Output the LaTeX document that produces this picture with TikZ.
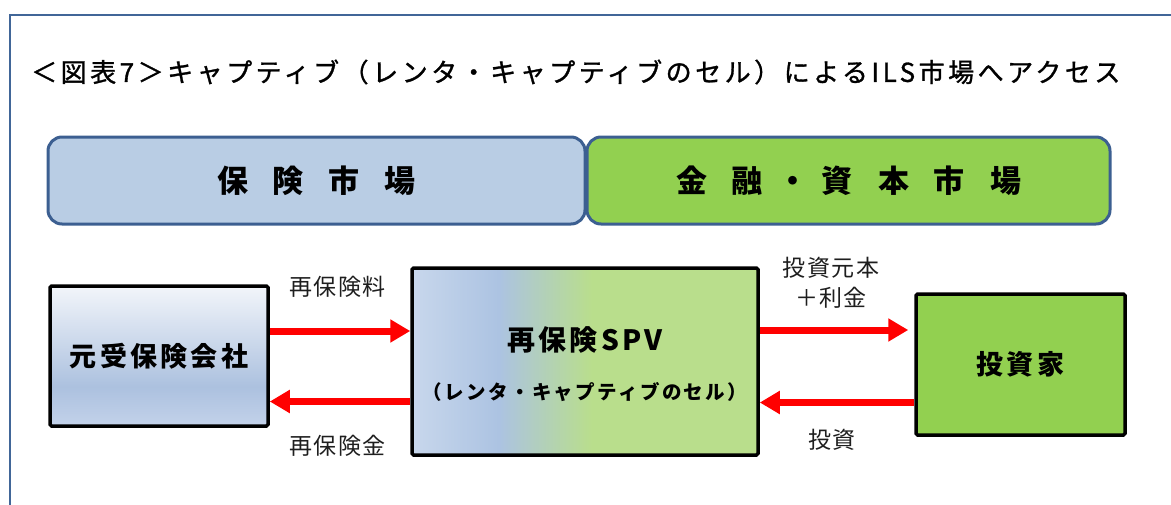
\documentclass[tikz,border=0pt]{standalone}
\usepackage{fontspec}
\newfontfamily\jp{Noto Sans CJK JP}
\newfontfamily\jpt[LetterSpace=12]{Noto Sans CJK JP}
\newfontfamily\jptitle[LetterSpace=13.5,FakeBold=1.2]{Noto Sans CJK JP}
\newfontfamily\jpl[LetterSpace=6]{Noto Sans CJK JP}
\usetikzlibrary{arrows.meta}
\definecolor{framec}{RGB}{65,102,152}
\definecolor{barborder}{RGB}{60,95,145}
\definecolor{bluefill}{RGB}{185,205,228}
\definecolor{greenfill}{RGB}{146,208,80}
\definecolor{arrowred}{RGB}{255,0,0}
\definecolor{labelc}{RGB}{30,30,30}
\definecolor{mb}{RGB}{195,210,234}
\definecolor{mm}{RGB}{172,193,223}
\definecolor{mt}{RGB}{242,245,250}
\definecolor{sl}{RGB}{200,215,236}
\definecolor{sb}{RGB}{172,195,226}
\definecolor{sg}{RGB}{185,222,140}
\pgfdeclareverticalshading{motoshade}{100bp}{color(0bp)=(mb); color(25bp)=(mb); color(39bp)=(mm); color(75bp)=(mt); color(100bp)=(mt)}
\pgfdeclarehorizontalshading{spvshade}{100bp}{color(0bp)=(sl); color(25bp)=(sl); color(37.5bp)=(sb); color(51bp)=(sg); color(100bp)=(sg)}
\tikzset{
  bar/.style={draw=barborder, line width=3pt, rounded corners=14pt, inner sep=0pt,
    font=\jp\bfseries\fontsize{31}{36}\selectfont},
  box/.style={draw=black, line width=3.5pt, rounded corners=1.5pt, inner sep=0pt, align=center},
  boxfont/.style={font=\jpt\bfseries\fontsize{27}{32}\selectfont},
  arr/.style={draw=arrowred, line width=7pt, -{Triangle[width=22pt,length=20pt]}},
  lbl/.style={text=labelc, inner sep=0pt, align=center, font=\jpl\fontsize{23}{29.5}\selectfont}
}
\begin{document}
\begin{tikzpicture}[x=1pt,y=-1pt]
\useasboundingbox (0,0) rectangle (1171,504);
\clip (0,0) rectangle (1171,504);
\draw[framec, line width=2.2pt] (10,15) rectangle (1230,560);
\node[anchor=west, inner sep=0pt, font=\jptitle\fontsize{26}{30}\selectfont] (title) at (31,72)
  {＜図表7＞キャプティブ（レンタ・キャプティブのセル）によるILS市場へアクセス};
\node[bar, fill=bluefill, minimum width=537pt, minimum height=87pt] (hoken) at (316.5,180.5)
  {保\hspace{25pt}険\hspace{25pt}市\hspace{25pt}場};
\node[bar, fill=greenfill, minimum width=523pt, minimum height=87pt] (kinyu) at (848.5,180.5)
  {金\hspace{25pt}融\hspace{14pt}・\hspace{14pt}資\hspace{25pt}本\hspace{25pt}市\hspace{25pt}場};
\node[box, boxfont, shade, shading=motoshade, minimum width=218pt, minimum height=140pt] (moto) at (159,356)
  {元受保険会社};
\node[box, shade, shading=spvshade, minimum width=346pt, minimum height=187pt] (spv) at (585,361.5) {};
\node[boxfont, inner sep=0pt, font=\jpt\bfseries\fontsize{28}{32}\selectfont] (spvname) at (585,340) {再保険SPV};
\node[inner sep=0pt, font=\jpt\bfseries\fontsize{19.5}{24}\selectfont] (spvsub) at (585,392) {（レンタ・キャプティブのセル）};
\node[box, boxfont, fill=greenfill, minimum width=209pt, minimum height=141pt] (inv) at (1020.5,364.5) {投資家};
\coordinate (a1) at ([yshift=25pt]moto.east);
\coordinate (a2) at ([yshift=-40pt]spv.west);
\coordinate (a3) at ([yshift=31.5pt]spv.east);
\coordinate (a4) at ([yshift=-38pt]inv.west);
\coordinate (a3e) at ([xshift=-6pt]a3 -| inv.west);
\draw[arr] (a1) -- (a1 -| spv.west);
\draw[arr] (a2) -- (a2 -| moto.east);
\draw[arr] (a3) -- (a3e);
\draw[arr] (a4) -- (a4 -| spv.east);
\node[lbl] (l1) at (337.5,287) {再保険料};
\node[lbl] (l2) at (337.5,446) {再保険金};
\node[lbl] (l3) at (831,283) {投資元本\\＋利金};
\node[lbl] (l4) at (832,440) {投資};
\end{tikzpicture}
\end{document}
